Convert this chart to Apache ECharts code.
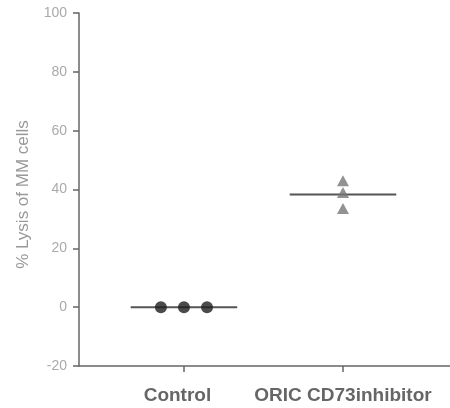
<!DOCTYPE html>
<html>
<head>
<meta charset="utf-8">
<script src="https://cdn.jsdelivr.net/npm/echarts@6/dist/echarts.min.js"></script>
<style>html,body{margin:0;padding:0;background:#fff}#c{width:450px;height:408px}</style>
</head>
<body>
<div id="c"></div>
<script>
const categories = ['Control', 'ORIC CD73inhibitor'];
const controlValues = [0, 0, 0];
const inhibitorValues = [43, 39, 33.5];
const groupMeans = [0, 38.3];
const yTicks = [-20, 0, 20, 40, 60, 80, 100];

const jitter = [-0.145, 0, 0.145];
const halfLine = 0.335;
const pos = [1, 2];
const font = 'Liberation Sans, Arial, sans-serif';

const chart = echarts.init(document.getElementById('c'), null, {renderer: 'canvas'});
const meanSeries = groupMeans.map((m, i) => ({
  type: 'line',
  data: [[pos[i] - halfLine, m], [pos[i] + halfLine, m]],
  symbol: 'none',
  lineStyle: {color: '#555', width: 2},
  z: 2,
  silent: true
}));
chart.setOption({
  animation: false,
  grid: {left: 79, right: 0, top: 13, bottom: 42},
  xAxis: {
    type: 'value',
    min: 0.34, max: 2.673,
    splitLine: {show: false},
    axisLine: {show: true, onZero: false, lineStyle: {color: '#666', width: 1.5}},
    axisTick: {show: true, customValues: pos, length: 6, lineStyle: {color: '#666', width: 1.5}},
    axisLabel: {
      customValues: pos,
      formatter: v => Math.round(v) === 1 ? '{a|' + categories[0] + '}' : '{b|' + categories[1] + '}',
      margin: 20,
      color: '#666',
      fontSize: 19,
      fontWeight: 'bold',
      fontFamily: font,
      rich: {
        a: {color: '#666', fontSize: 19, fontWeight: 'bold', fontFamily: font, padding: [0, 13, 0, 0]},
        b: {color: '#666', fontSize: 19, fontWeight: 'bold', fontFamily: font}
      }
    }
  },
  yAxis: {
    type: 'value',
    min: yTicks[0], max: yTicks[yTicks.length - 1], interval: 20,
    name: '% Lysis of MM cells',
    nameLocation: 'middle',
    nameGap: 47,
    nameTextStyle: {color: '#999', fontSize: 17, fontFamily: font, padding: [0, 10, 0, 0]},
    splitLine: {show: false},
    axisLine: {show: true, lineStyle: {color: '#666', width: 1.5}},
    axisTick: {show: true, length: 6, lineStyle: {color: '#666', width: 1.5}},
    axisLabel: {color: '#aaa', fontSize: 14, margin: 12, fontFamily: font}
  },
  series: [
    ...meanSeries,
    {
      type: 'scatter',
      data: controlValues.map((v, i) => [pos[0] + jitter[i], v]),
      symbol: 'circle',
      symbolSize: 12,
      itemStyle: {color: '#1e1e1e'},
      z: 3
    },
    {
      type: 'scatter',
      data: inhibitorValues.map(v => [pos[1], v]),
      symbol: 'triangle',
      symbolSize: [12, 11],
      itemStyle: {color: '#777'},
      z: 3
    }
  ]
});
</script>
</body>
</html>
